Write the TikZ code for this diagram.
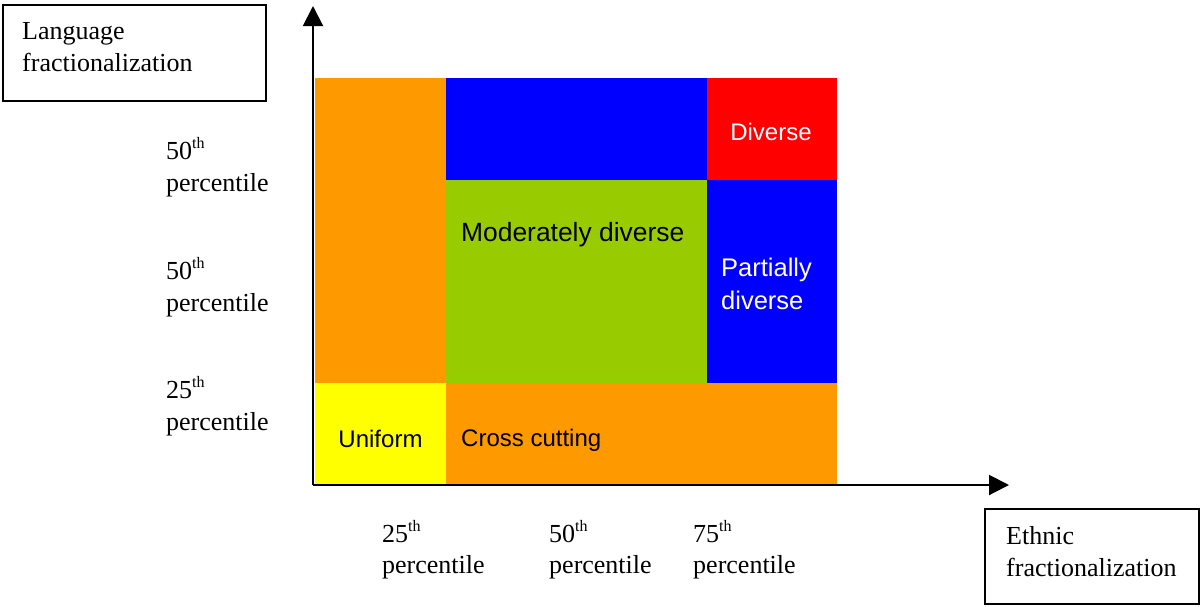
\documentclass[tikz,border=0pt]{standalone}
\usepackage{fontspec}
\setmainfont{Liberation Serif}
\newfontfamily\arialf{Liberation Sans}
\usetikzlibrary{arrows.meta}
\definecolor{cOrange}{HTML}{FF9900}
\definecolor{cBlue}{HTML}{0000FF}
\definecolor{cRed}{HTML}{FF0000}
\definecolor{cGreen}{HTML}{99CC00}
\definecolor{cYellow}{HTML}{FFFF00}
\newcommand\thsup{\raisebox{11pt}{\fontsize{16}{16}\selectfont th}}
\tikzset{
  serif/.style={inner sep=0pt, anchor=base west, font=\fontsize{26}{32}\selectfont},
  sans/.style={inner sep=0pt, anchor=base, font=\arialf\fontsize{24}{30}\selectfont},
  sansbig/.style={inner sep=0pt, anchor=base west, font=\arialf\fontsize{26.4}{32}\selectfont},
  sansmid/.style={inner sep=0pt, anchor=base west, font=\arialf\fontsize{25.5}{32}\selectfont},
  axisline/.style={line width=2pt, -{Triangle[length=20pt,width=20pt]}},
  labelbox/.style={line width=1.3pt},
}
\begin{document}
\begin{tikzpicture}[x=1pt,y=-1pt]
\useasboundingbox (0,0) rectangle (1201,606);
% cells
\fill[cOrange] (315,78) rectangle (446,383);
\fill[cBlue] (446,78) rectangle (707,180);
\fill[cRed] (707,78) rectangle (837,180);
\fill[cGreen] (446,180) rectangle (707,383);
\fill[cBlue] (707,180) rectangle (837,383);
\fill[cYellow] (315,383) rectangle (446,485);
\fill[cOrange] (446,383) rectangle (837,485);
% cell labels
\node[sans, text=white] (diverse) at (771,140) {Diverse};
\node[sansbig] (moddiv) at (461,241.7) {Moderately diverse};
\node[sansmid, text=white] (partA) at (721,276.7) {Partially};
\node[sansmid, text=white] (partB) at (721,309) {diverse};
\node[sans] (uniform) at (380.5,447) {Uniform};
\node[sans, anchor=base west] (cross) at (461,446.7) {Cross cutting};
% axes
\coordinate (O) at (313,485);
\coordinate (ytop) at (313,6);
\coordinate (xend) at (1009,485);
\draw[axisline] (O) -- (ytop);
\draw[axisline] (O) -- (xend);
% label boxes
\draw[labelbox] (3,5) rectangle (266,101);
\node[serif] (lang1) at (22,39.5) {Language};
\node[serif] (lang2) at (22,71) {fractionalization};
\draw[labelbox] (985,509) rectangle (1199,604);
\node[serif] (eth1) at (1006,544) {Ethnic};
\node[serif] (eth2) at (1006,576) {fractionalization};
% y-axis percentiles
\node[serif] (ya1) at (166,159.3) {50\thsup};
\node[serif] (ya2) at (166,191.7) {percentile};
\node[serif] (yb1) at (166,279) {50\thsup};
\node[serif] (yb2) at (166,311.7) {percentile};
\node[serif] (yc1) at (166,398.3) {25\thsup};
\node[serif] (yc2) at (166,430) {percentile};
% x-axis percentiles
\node[serif] (xa1) at (382,542.7) {25\thsup};
\node[serif] (xa2) at (382,573.3) {percentile};
\node[serif] (xb1) at (549,542.7) {50\thsup};
\node[serif] (xb2) at (549,573.3) {percentile};
\node[serif] (xc1) at (693,542.7) {75\thsup};
\node[serif] (xc2) at (693,573.3) {percentile};
\end{tikzpicture}
\end{document}
